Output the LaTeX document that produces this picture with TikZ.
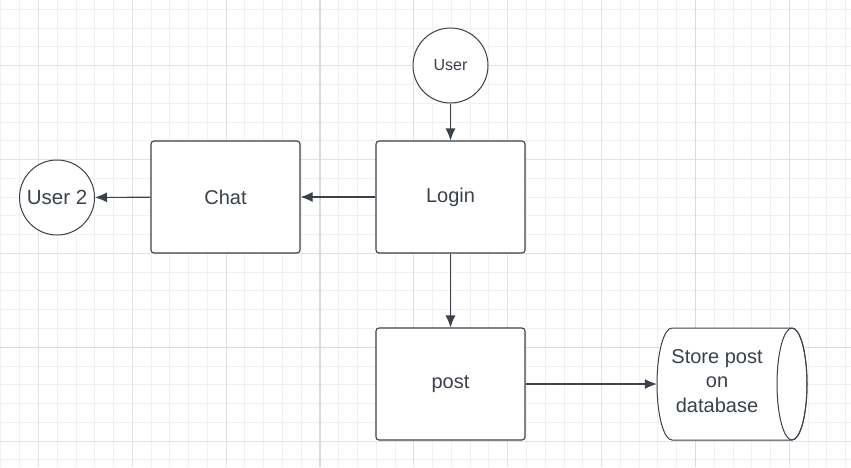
\documentclass[tikz,border=0pt]{standalone}
\usepackage{fontspec}
\setmainfont{Liberation Sans}
\usetikzlibrary{arrows.meta}
\definecolor{ink}{RGB}{58,65,74}
\definecolor{gridminor}{RGB}{240,240,240}
\definecolor{gridmid}{RGB}{226,226,226}
\definecolor{gridmajor}{RGB}{218,218,218}
\tikzset{
  box/.style={draw=ink, line width=1.1pt, fill=white, rounded corners=3pt, minimum width=149pt, minimum height=112pt, inner sep=0pt, text=ink, font=\fontsize{20}{24}\selectfont},
  circ/.style={draw=ink, line width=1pt, fill=white, circle, minimum size=75pt, inner sep=0pt, text=ink},
  conn/.style={draw=ink, line width=1.1pt, -{Latex[length=12pt,width=10pt]}},
  cyltext/.style={align=center, text=ink, font=\fontsize{20}{24.5}\selectfont, inner sep=0pt},
}
\begin{document}
\begin{tikzpicture}[x=1pt,y=-1pt]
\useasboundingbox (0,0) rectangle (851,467);
\fill[white] (0,0) rectangle (851,467);
\begin{scope}
\clip (0,0) rectangle (851,467);
% minor grid
\foreach \k in {-3,...,45} {
  \draw[gridminor, line width=1pt] ({38.5+\k*18.77},0) -- ({38.5+\k*18.77},467);
}
\foreach \k in {-4,...,22} {
  \draw[gridminor, line width=1pt] (0,{65.7+\k*18.77}) -- (851,{65.7+\k*18.77});
}
% medium grid
\foreach \k in {0,...,9} {
  \draw[gridmid, line width=1pt] ({38.5+\k*93.85},0) -- ({38.5+\k*93.85},467);
}
\foreach \k in {0,...,4} {
  \draw[gridmid, line width=1pt] (0,{65.7+\k*93.85}) -- (851,{65.7+\k*93.85});
}
% major grid
\draw[gridmajor, line width=1.6pt] (320.1,0) -- (320.1,467);
\draw[gridmajor, line width=1.6pt] (695.5,0) -- (695.5,467);
\draw[gridmajor, line width=1.6pt] (0,347.3) -- (851,347.3);
\end{scope}

% nodes
\node[circ, font=\fontsize{16}{19}\selectfont] (user) at (450.5,65.5) {User};
\node[box] (login) at (450.5,197) {Login};
\node[box] (chat) at (225.5,197) {Chat};
\node[circ, font=\fontsize{20.5}{24}\selectfont] (user2) at (57,197.5) {User 2};
\node[box] (post) at (450.5,384) {post};

% cylinder (database)
\draw[ink, line width=1pt, fill=white] (672,328) -- (792,328)
  arc[start angle=90, end angle=-90, x radius=15pt, y radius=56pt]
  -- (672,440)
  arc[start angle=270, end angle=90, x radius=15pt, y radius=56pt] -- cycle;
\draw[ink, line width=1pt] (792,384) ellipse[x radius=15pt, y radius=56pt];
\node[minimum width=150pt, minimum height=112pt, inner sep=0pt] (db) at (732,384) {};
\node[cyltext] (dbtext) at (717,381) {Store post\\on\\database};

% connectors
\draw[conn] (user) -- (login);
\draw[conn] (login) -- (chat);
\draw[conn] (chat) -- (user2);
\draw[conn] (login) -- (post);
\draw[conn] (post) -- (db);
\end{tikzpicture}
\end{document}
